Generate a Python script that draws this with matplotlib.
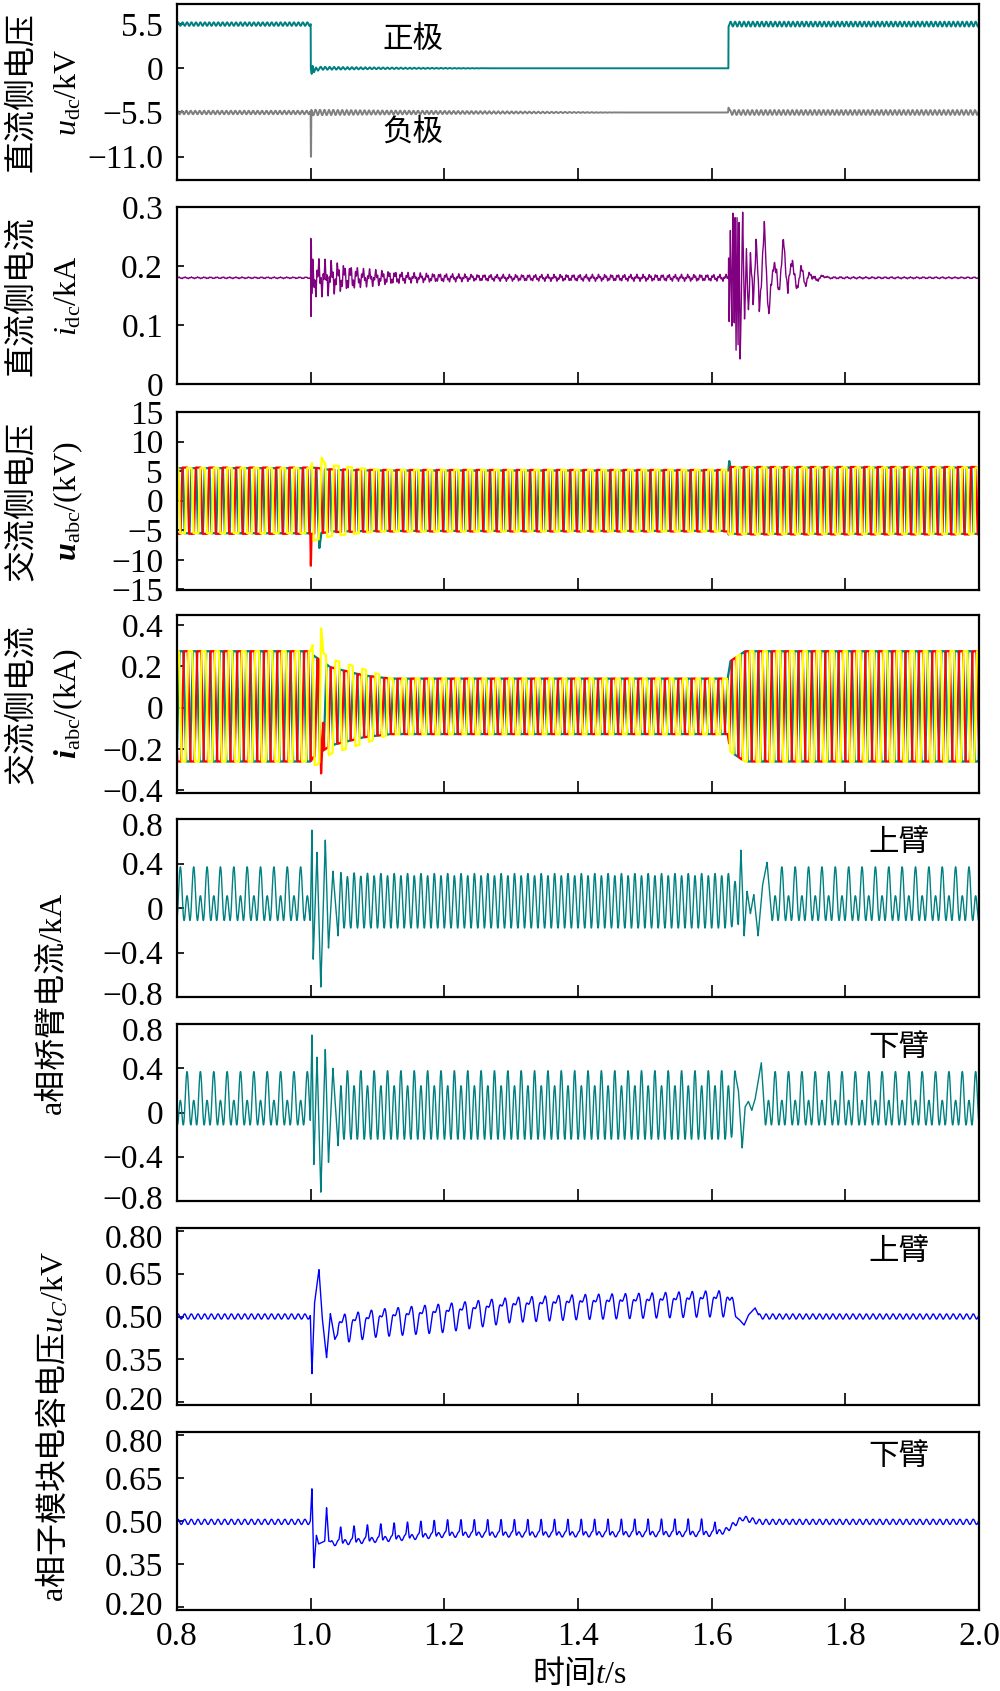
import numpy as np
import matplotlib
matplotlib.use("Agg")
import matplotlib.pyplot as plt
from matplotlib.transforms import offset_copy

plt.rcParams['font.family'] = ['Liberation Serif', 'Noto Sans CJK SC']
plt.rcParams['mathtext.fontset'] = 'custom'
plt.rcParams['mathtext.rm'] = 'Liberation Serif'
plt.rcParams['mathtext.it'] = 'Liberation Serif:italic'
plt.rcParams['mathtext.bf'] = 'Liberation Serif:bold'
plt.rcParams['mathtext.bfit'] = 'Liberation Serif:bold:italic'

TEAL = '#008080'
GRAY = '#808080'
PURPLE = '#800080'
BLUE = '#0000ff'

F0 = 50.0      # 基波频率 Hz
F_RIP = 150.0  # 直流纹波
T_START, T_END = 0.8, 2.0

# ---------------- 直流侧电压 (kV) ----------------
UDC_T = [0.8, 1.0, 1.0001, 1.625, 1.6251, 2.0]
UDC_POS = [5.5, 5.5, 0.0, 0.0, 5.5, 5.5]
UDC_NEG = [-5.5, -5.5, -5.5, -5.5, -5.5, -5.5]
UDC_RIP_T = [0.8, 1.0, 1.0001, 1.1, 1.28, 1.47, 1.625, 1.6251, 2.0]
UDC_RIP_POS = [0.22, 0.22, 0.2, 0.1, 0.0, 0.0, 0.0, 0.3, 0.3]
UDC_RIP_NEG = [0.22, 0.22, 0.35, 0.25, 0.15, 0.0, 0.0, 0.3, 0.3]
POS_TR_T = [1.0015, 1.003, 1.005, 1.008, 1.011]
POS_TR_V = [-0.7, 0.3, -0.5, 0.1, -0.3]
NEG_TR_T = [1.0002, 1.0006]
NEG_TR_V = [-11.0, -11.0]

# ---------------- 直流侧电流 (kA) ----------------
IDC_BASE = 0.18
IDC_OSC_T = [0.8, 1.0, 1.003, 1.03, 1.08, 1.15, 1.25, 1.625, 1.63, 1.7, 1.77, 2.0]
IDC_OSC_A = [0.0015, 0.0015, 0.035, 0.03, 0.016, 0.009, 0.006, 0.006, 0.02, 0.015, 0.002, 0.0015]
IDC_TR1_T = [1.0002, 1.0006, 1.001, 1.0016]
IDC_TR1_V = [0.245, 0.11, 0.23, 0.15]
IDC_TR2_T = [1.6254, 1.6262, 1.6280, 1.6302, 1.6318, 1.6338, 1.6350, 1.6365, 1.6380,
             1.6395, 1.6410, 1.6426, 1.6464, 1.6492, 1.6520, 1.6550, 1.6580, 1.6620,
             1.6664, 1.6712, 1.6788, 1.6855, 1.6931, 1.7000, 1.7074, 1.7140, 1.7208,
             1.7270, 1.7332, 1.7400, 1.7475, 1.7560, 1.7666]
IDC_TR2_V = [0.218, 0.115, 0.26, 0.082, 0.286, 0.10, 0.30, 0.06, 0.29,
             0.05, 0.27, 0.033, 0.298, 0.096, 0.22, 0.13, 0.21, 0.14,
             0.244, 0.127, 0.26, 0.116, 0.215, 0.155, 0.24, 0.16, 0.215,
             0.155, 0.198, 0.17, 0.187, 0.176, 0.183]

# ---------------- 交流侧电压 (kV) ----------------
UAC_T = [0.8, 1.0, 1.003, 1.03, 1.1, 1.625, 1.6251, 2.0]
UAC_AMP_A = [5.5, 5.5, 5.6, 5.2, 5.1, 5.1, 5.6, 5.6]
UAC_AMP_B = [5.6, 5.6, 5.6, 5.3, 5.2, 5.2, 5.7, 5.7]
UAC_AMP_C = [5.5, 5.5, 6.8, 6.0, 5.2, 5.2, 5.6, 5.6]
UAC_SPK = {  # 相: (窗口起点, 窗口终点, 时刻, 值)
    'A': [(1.010, 1.016, [1.013], [-8.0]), (1.625, 1.628, [1.6263], [6.7])],
    'B': [(0.9995, 1.0012, [1.0003], [-11.0])],
    'C': [(1.012, 1.021, [1.0165], [7.3])],
}

# ---------------- 交流侧电流 (kA) ----------------
IAC_T = [0.8, 1.0, 1.003, 1.03, 1.08, 1.12, 1.624, 1.628, 1.65, 2.0]
IAC_AMP_A = [0.268, 0.268, 0.25, 0.19, 0.15, 0.135, 0.135, 0.22, 0.268, 0.268]
IAC_AMP_B = [0.268, 0.268, 0.25, 0.19, 0.15, 0.135, 0.135, 0.22, 0.268, 0.268]
IAC_AMP_C = [0.268, 0.268, 0.3, 0.23, 0.18, 0.135, 0.135, 0.22, 0.268, 0.268]
IAC_SPK = {
    'A': [],
    'B': [(1.012, 1.019, [1.0156], [-0.32])],
    'C': [(1.003, 1.009, [1.006], [-0.28]), (1.013, 1.019, [1.0156], [0.385])],
}

# ---------------- a相桥臂电流 (kA) ----------------
ARM_T = [0.8, 1.0, 1.04, 1.1, 1.625, 1.66, 2.0]
UP_DC = [0.07, 0.07, 0.06, 0.06, 0.06, 0.07, 0.07]
UP_A1 = [0.13, 0.13, 0.02, 0.01, 0.01, 0.13, 0.13]
UP_A2 = [0.17, 0.17, 0.24, 0.24, 0.24, 0.17, 0.17]
LOW_DC = [0.07, 0.07, 0.035, 0.035, 0.035, 0.07, 0.07]
LOW_A1 = [-0.13, -0.13, -0.068, -0.068, -0.068, -0.13, -0.13]
LOW_A2 = [0.17, 0.17, 0.275, 0.275, 0.275, 0.17, 0.17]
UP_TR1_T = [1.0019, 1.0038, 1.0095, 1.0152, 1.0219, 1.0267, 1.0333, 1.041]
UP_TR1_V = [0.70, -0.46, 0.50, -0.71, 0.61, -0.36, 0.33, -0.25]
UP_TR2_T = [1.6438, 1.6486, 1.653, 1.658, 1.663, 1.6695, 1.676, 1.6829]
UP_TR2_V = [0.52, -0.25, 0.15, -0.05, 0.12, -0.25, 0.2, 0.41]
LOW_TR1_T = [1.0019, 1.0048, 1.0095, 1.0152, 1.0219, 1.0267, 1.0333, 1.041]
LOW_TR1_V = [0.70, -0.47, 0.50, -0.72, 0.57, -0.45, 0.40, -0.30]
LOW_TR2_T = [1.6400, 1.6457, 1.650, 1.655, 1.660, 1.665, 1.6743]
LOW_TR2_V = [0.2, -0.32, 0.05, 0.1, 0.02, 0.12, 0.45]

# ---------------- a相子模块电容电压 (kV) ----------------
CU_T = [0.8, 1.0, 1.04, 1.1, 1.2, 1.3, 1.4, 1.5, 1.6, 1.625, 1.645, 2.0]
CU_MEAN = [0.5, 0.5, 0.463, 0.485, 0.503, 0.53, 0.54, 0.545, 0.552, 0.552, 0.5, 0.5]
CU_AMP = [0.0, 0.0, 0.047, 0.045, 0.047, 0.04, 0.04, 0.04, 0.042, 0.042, 0.0, 0.0]
CU_TR1_T = [1.0019, 1.0057, 1.0124, 1.0171, 1.0238, 1.0295, 1.0362]
CU_TR1_V = [0.30, 0.545, 0.664, 0.50, 0.356, 0.51, 0.42]
CU_TR2_T = [1.641, 1.6486, 1.655, 1.665]
CU_TR2_V = [0.49, 0.47, 0.505, 0.53]
CL_T = [0.8, 1.0, 1.02, 1.1, 1.2, 1.6, 1.62, 1.646, 1.67, 2.0]
CL_BASE = [0.497, 0.497, 0.42, 0.435, 0.452, 0.455, 0.465, 0.51, 0.497, 0.497]
CL_SPK = [0.0, 0.0, 0.06, 0.06, 0.058, 0.058, 0.0, 0.0, 0.0, 0.0]
CL_TR1_T = [1.0019, 1.0048, 1.0086, 1.012, 1.021, 1.0238, 1.027]
CL_TR1_V = [0.612, 0.337, 0.45, 0.42, 0.43, 0.546, 0.43]
CAP_RIP = 0.009

# ---------------- 信号构造 ----------------
t = np.arange(T_START, T_END + 2.5e-5, 5e-5)
w = 2 * np.pi * F0 * t


def env(kt, kv):
    return np.interp(t, kt, kv)


def splice(y, t0, t1, pts_t, pts_v):
    y = y.copy()
    m = (t >= t0) & (t <= t1)
    y0 = np.interp(t0, t, y)
    y1 = np.interp(t1, t, y)
    y[m] = np.interp(t[m], [t0] + list(pts_t) + [t1], [y0] + list(pts_v) + [y1])
    return y


rip = np.sin(2 * np.pi * F_RIP * t)
u_pos = env(UDC_T, UDC_POS) + env(UDC_RIP_T, UDC_RIP_POS) * rip
u_pos = splice(u_pos, 1.0001, 1.014, POS_TR_T, POS_TR_V)
u_neg = env(UDC_T, UDC_NEG) + env(UDC_RIP_T, UDC_RIP_NEG) * np.sin(2 * np.pi * F_RIP * t + 1.0)
u_neg = splice(u_neg, 0.9999, 1.001, NEG_TR_T, NEG_TR_V)
u_neg = splice(u_neg, 1.6245, 1.628, [1.6252], [-4.9])

i_dc = np.full_like(t, IDC_BASE)
i_dc = splice(i_dc, 0.9999, 1.0025, IDC_TR1_T, IDC_TR1_V)
i_dc = splice(i_dc, 1.6250, 1.7750, IDC_TR2_T, IDC_TR2_V)
i_dc = i_dc + env(IDC_OSC_T, IDC_OSC_A) * (0.6 * np.sin(2 * np.pi * 105 * t)
                                           + 0.4 * np.sin(2 * np.pi * 330 * t + 1.0))

PH = {'A': 0.0, 'B': -2 * np.pi / 3, 'C': 2 * np.pi / 3}
u_ac, i_ac = {}, {}
for k, amp_u, amp_i in [('A', UAC_AMP_A, IAC_AMP_A), ('B', UAC_AMP_B, IAC_AMP_B),
                        ('C', UAC_AMP_C, IAC_AMP_C)]:
    yu = env(UAC_T, amp_u) * np.clip(2.5 * np.sin(w + PH[k]), -1, 1)
    for s in UAC_SPK[k]:
        yu = splice(yu, *s)
    u_ac[k] = yu
    yi = env(IAC_T, amp_i) * np.clip(1.6 * np.sin(w + PH[k] - 0.5), -1, 1) + 0.006
    for s in IAC_SPK[k]:
        yi = splice(yi, *s)
    i_ac[k] = yi

i_up = env(ARM_T, UP_DC) + env(ARM_T, UP_A1) * np.sin(w) - env(ARM_T, UP_A2) * np.cos(2 * w)
i_up = splice(i_up, 0.9995, 1.045, UP_TR1_T, UP_TR1_V)
i_up = splice(i_up, 1.640, 1.690, UP_TR2_T, UP_TR2_V)
i_low = env(ARM_T, LOW_DC) + env(ARM_T, LOW_A1) * np.sin(w) - env(ARM_T, LOW_A2) * np.cos(2 * w)
i_low = splice(i_low, 0.9995, 1.045, LOW_TR1_T, LOW_TR1_V)
i_low = splice(i_low, 1.636, 1.680, LOW_TR2_T, LOW_TR2_V)

cap_rip = CAP_RIP * np.sin(2 * w + 0.7)
uc_up = env(CU_T, CU_MEAN) + env(CU_T, CU_AMP) * (np.sin(w - 1.0) + 0.35 * np.sin(2 * w)) / 1.2 + cap_rip
uc_up = splice(uc_up, 0.9995, 1.040, CU_TR1_T, CU_TR1_V)
uc_up = splice(uc_up, 1.636, 1.670, CU_TR2_T, CU_TR2_V)
uc_low = env(CL_T, CL_BASE) + env(CL_T, CL_SPK) * np.clip(np.sin(w), 0, None) ** 6 + cap_rip
uc_low = splice(uc_low, 0.9995, 1.030, CL_TR1_T, CL_TR1_V)

# ---------------- 绘图 ----------------
W, H = 1000, 1691
PANEL_TOP = [4, 207, 412, 615, 819, 1024, 1228, 1432]
PANEL_BOT = [180, 384, 590, 793, 997, 1201, 1405, 1610]
AX_L, AX_R = 177, 979
FS = 24
CJK = ['Noto Sans CJK SC']

fig = plt.figure(figsize=(10, 16.91), dpi=100)
axes = []
for top, bot in zip(PANEL_TOP, PANEL_BOT):
    ax = fig.add_axes([AX_L / W, 1 - bot / H, (AX_R - AX_L) / W, (bot - top) / H])
    ax.set_xlim(T_START, T_END)
    ax.set_xticks(np.arange(0.8, 2.01, 0.2))
    ax.tick_params(axis='x', direction='in', length=9, width=1.2, labelsize=FS, pad=8)
    ax.tick_params(axis='y', direction='in', length=5, width=1.2, labelsize=FS, pad=10)
    for sp in ax.spines.values():
        sp.set_linewidth(1.6)
    ax.tick_params(labelbottom=False)
    axes.append(ax)

ax1, ax2, ax3, ax4, ax5, ax6, ax7, ax8 = axes

ax1.plot(t, u_pos, color=TEAL, lw=1.4)
ax1.plot(t, u_neg, color=GRAY, lw=1.4)
ax1.set_ylim(-13.9, 8.0)
ax1.set_yticks([5.5, 0, -5.5, -11.0])
ax1.set_yticklabels(['5.5', '0', '\u22125.5', '\u221211.0'])
ax1.text(0.294, 0.80, '正极', transform=ax1.transAxes, fontsize=22, family=CJK,
         ha='center', va='center')
ax1.text(0.294, 0.27, '负极', transform=ax1.transAxes, fontsize=22, family=CJK,
         ha='center', va='center')

ax2.plot(t, i_dc, color=PURPLE, lw=1.0)
ax2.set_ylim(0, 0.3)
ax2.set_yticks([0, 0.1, 0.2, 0.3])
ax2.set_yticklabels(['0', '0.1', '0.2', '0.3'])

for k, c in [('A', TEAL), ('B', 'red'), ('C', 'yellow')]:
    ax3.plot(t, u_ac[k], color=c, lw=1.6)
ax3.set_ylim(-15.1, 15.0)
ax3.set_yticks([15, 10, 5, 0, -5, -10, -15])
ax3.set_yticklabels(['15', '10', '5', '0', '\u22125', '\u221210', '\u221215'])

for k, c in [('A', TEAL), ('B', 'red'), ('C', 'yellow')]:
    ax4.plot(t, i_ac[k], color=c, lw=1.6)
ax4.set_ylim(-0.415, 0.45)
ax4.set_yticks([0.4, 0.2, 0, -0.2, -0.4])
ax4.set_yticklabels(['0.4', '0.2', '0', '\u22120.2', '\u22120.4'])

for ax, y, lab in [(ax5, i_up, '上臂'), (ax6, i_low, '下臂')]:
    ax.plot(t, y, color=TEAL, lw=1.0)
    ax.set_ylim(-0.8, 0.8)
    ax.set_yticks([0.8, 0.4, 0, -0.4, -0.8])
    ax.set_yticklabels(['0.8', '0.4', '0', '\u22120.4', '\u22120.8'])
    ax.text(0.90, 0.87, lab, transform=ax.transAxes, fontsize=22, family=CJK,
            ha='center', va='center')

for ax, y, lab in [(ax7, uc_up, '上臂'), (ax8, uc_low, '下臂')]:
    ax.plot(t, y, color=BLUE, lw=1.0)
    ax.set_ylim(0.19, 0.81)
    ax.set_yticks([0.80, 0.65, 0.50, 0.35, 0.20])
    ax.set_yticklabels(['0.80', '0.65', '0.50', '0.35', '0.20'])
    ax.text(0.90, 0.865, lab, transform=ax.transAxes, fontsize=22, family=CJK,
            ha='center', va='center')

ax8.tick_params(labelbottom=True)
ax8.set_xticklabels(['0.8', '1.0', '1.2', '1.4', '1.6', '1.8', '2.0'])

# 上下边缘的刻度标签略向内收, 避免相邻子图的标签重叠
for ax in (ax5, ax6, ax7, ax8):
    labs = ax.get_yticklabels()
    top_lab, bot_lab = labs[0], labs[-1]
    top_lab.set_transform(offset_copy(top_lab.get_transform(), fig=fig, x=0, y=-5, units='dots'))
    bot_lab.set_transform(offset_copy(bot_lab.get_transform(), fig=fig, x=0, y=4, units='dots'))

# 混排文字: 非公式部分用中文字体, 西文放入公式的 \mathrm
fig.text(579 / W, 1 - 1673 / H, r'时间$t\mathrm{/s}$', fontsize=FS - 1, family=CJK,
         ha='center', va='center')

# 纵轴标签
for i, (cn, sym) in enumerate([('直流侧电压', r'$\mathit{u}_{\mathrm{dc}}$/kV'),
                               ('直流侧电流', r'$\mathit{i}_{\mathrm{dc}}$/kA'),
                               ('交流侧电压', r'$\mathbfit{u}_{\mathrm{abc}}$/(kV)'),
                               ('交流侧电流', r'$\mathbfit{i}_{\mathrm{abc}}$/(kA)')]):
    yc = 1 - (PANEL_TOP[i] + PANEL_BOT[i]) / 2 / H
    fig.text(21 / W, yc, cn, fontsize=FS - 1, family=CJK, rotation=90, ha='center', va='center')
    fig.text(68 / W, yc, sym, fontsize=FS - 1, rotation=90, ha='center', va='center')

fig.text(52 / W, 1 - 1003 / H, 'a相桥臂电流/kA', fontsize=FS - 1, rotation=90,
         ha='center', va='center')
fig.text(52 / W, 1 - 1426 / H, r'$\mathrm{a}$相子模块电容电压$u_C\mathrm{/kV}$',
         fontsize=FS - 1, family=CJK, rotation=90, ha='center', va='center')

fig.savefig('out.png', dpi=100)
